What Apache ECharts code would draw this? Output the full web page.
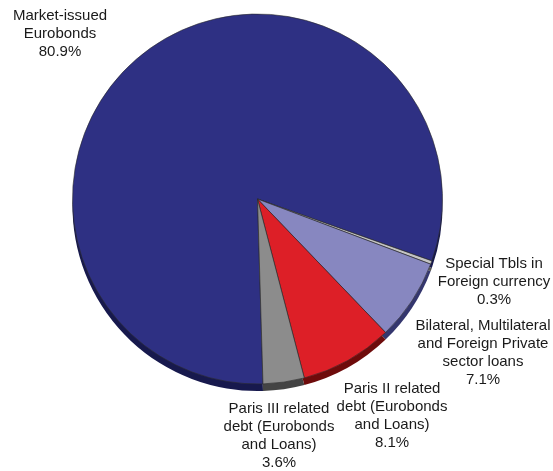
<!DOCTYPE html>
<html>
<head>
<meta charset="utf-8">
<script src="https://cdn.jsdelivr.net/npm/echarts@6/dist/echarts.min.js"></script>
<style>html,body{margin:0;padding:0;background:#fff;}#c{width:553px;height:471px;}</style>
</head>
<body>
<div id="c"></div>
<script>
const categories = [
  'Market-issued\nEurobonds',
  'Special Tbls in\nForeign currency',
  'Bilateral, Multilateral\nand Foreign Private\nsector loans',
  'Paris II related\ndebt (Eurobonds\nand Loans)',
  'Paris III related\ndebt (Eurobonds\nand Loans)'
];
const shares = [80.9, 0.3, 7.1, 8.1, 3.6];
const topColors = ['#2e3083', '#c4c4c4', '#8787c0', '#dd1f27', '#8c8c8c'];
const sideColors = ['#17194d', '#555555', '#34366e', '#6e0b0b', '#444444'];
const labelSpots = [[60, 34], [494, 282], [483, 353], [392, 416], [279, 436]];

const center = [257.5, 199];
const sideCenter = [257.5, 206];
const radius = 185;
const startAngle = 271.7;

const chart = echarts.init(document.getElementById('c'));
chart.setOption({
  animation: false,
  backgroundColor: '#fff',
  series: [
    {
      type: 'pie',
      silent: true,
      z: 1,
      center: sideCenter,
      radius: radius,
      startAngle: startAngle,
      clockwise: true,
      label: { show: false },
      labelLine: { show: false },
      data: categories.map((c, i) => ({
        name: c,
        value: shares[i],
        itemStyle: { color: sideColors[i] }
      }))
    },
    {
      type: 'pie',
      z: 2,
      center: center,
      radius: radius,
      startAngle: startAngle,
      clockwise: true,
      itemStyle: { borderColor: '#2a2a2a', borderWidth: 0.6 },
      labelLine: { show: false },
      label: {
        show: true,
        position: 'inside',
        overflow: 'none',
        fontFamily: 'Liberation Sans, Arial, sans-serif',
        fontSize: 15,
        lineHeight: 18,
        color: '#1a1a1a',
        align: 'center',
        formatter: p => p.name + '\n' + shares[p.dataIndex].toFixed(1) + '%'
      },
      labelLayout: params => ({
        x: labelSpots[params.dataIndex][0],
        y: labelSpots[params.dataIndex][1],
        align: 'center',
        verticalAlign: 'middle'
      }),
      data: categories.map((c, i) => ({
        name: c,
        value: shares[i],
        itemStyle: { color: topColors[i] }
      }))
    }
  ]
});
</script>
</body>
</html>
